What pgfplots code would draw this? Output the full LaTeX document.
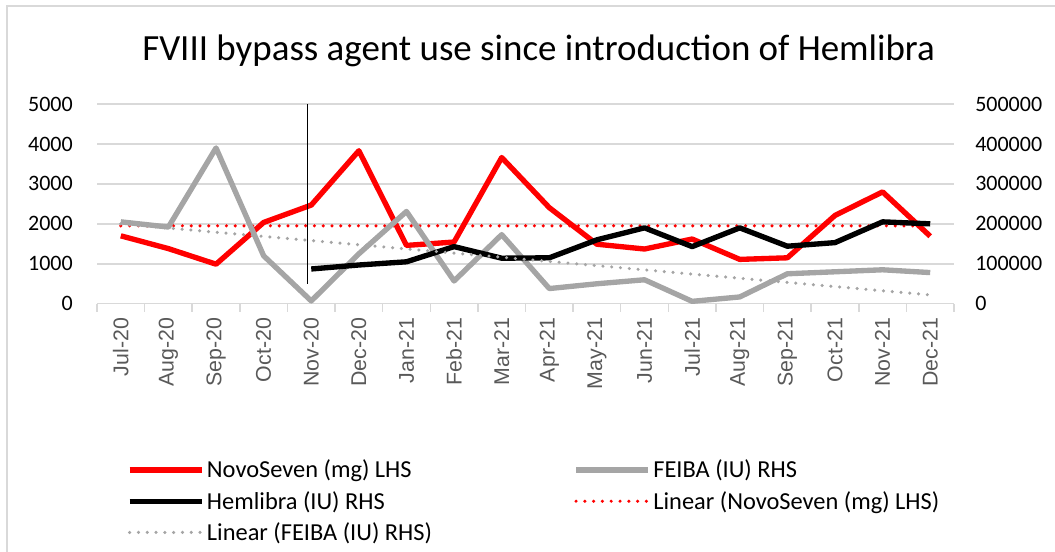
\documentclass[border=0pt]{standalone}
\usepackage{fontspec}
\setmainfont{Carlito}
\newfontfamily\arialf{Liberation Sans}
\usepackage{pgfplots}
\usepackage{pgfplotstable}
\pgfplotsset{compat=1.18}
\definecolor{novo}{HTML}{FF0000}
\definecolor{feiba}{HTML}{A5A5A5}
\definecolor{gridc}{HTML}{D9D9D9}
\definecolor{labc}{HTML}{595959}

% NovoSeven (mg), left axis
\pgfplotstableread{
idx novo
0  1700
1  1380
2  990
3  2035
4  2470
5  3830
6  1460
7  1545
8  3660
9  2405
10 1490
11 1370
12 1620
13 1110
14 1150
15 2210
16 2800
17 1690
}\novotab

% FEIBA (IU), right axis
\pgfplotstableread{
idx feiba
0  205000
1  192000
2  390000
3  120000
4  7000
5  125000
6  231000
7  57000
8  173000
9  38000
10 50000
11 60000
12 6000
13 17000
14 75000
15 80000
16 85000
17 78000
}\feibatab

% Hemlibra (IU), right axis, from Nov-20
\pgfplotstableread{
idx hem
4  87000
5  97000
6  105000
7  143000
8  114000
9  115000
10 160000
11 190000
12 143000
13 190000
14 144000
15 153000
16 205000
17 200000
}\hemtab

\pgfplotsset{
  base/.style={
    scale only axis, width=642.75pt, height=149.8pt,
    at={(72.75pt,-227.8pt)}, anchor=south west,
    xmin=-0.5, xmax=17.5, ymin=0,
    /pgf/number format/assume math mode=true,
    legend image code/.code={\draw[##1] (0pt,0pt) -- (54pt,0pt);},
  },
  novoline/.style={novo, line width=4pt, line join=round},
  feibaline/.style={feiba, line width=4pt, line join=round},
  hemline/.style={black, line width=4pt, line join=round},
  novotrend/.style={novo, line width=2.6pt, line cap=round, dash pattern=on 0pt off 6.6pt},
  feibatrend/.style={feiba, line width=2.6pt, line cap=round, dash pattern=on 0pt off 6.6pt},
}

\begin{document}
\begin{tikzpicture}
\useasboundingbox (0,0) rectangle (791.25pt,-414pt);
\draw[gridc, line width=1.1pt] (5.25pt,-600pt) -- (5.25pt,-4.5pt) -- (900pt,-4.5pt);
\node at (404pt,-38.5pt) {\fontsize{27.7}{32}\selectfont FVIII bypass agent use since introduction of Hemlibra};

\begin{axis}[base,
  ymax=5000, ytick={0,1000,...,5000},
  axis x line*=bottom, axis y line*=left,
  x axis line style={-, draw=gridc, line width=1.1pt},
  y axis line style={draw=none},
  ymajorgrids, grid style={gridc, line width=1.1pt},
  xtick={0,...,17},
  xticklabels={Jul-20,Aug-20,Sep-20,Oct-20,Nov-20,Dec-20,Jan-21,Feb-21,Mar-21,Apr-21,May-21,Jun-21,Jul-21,Aug-21,Sep-21,Oct-21,Nov-21,Dec-21},
  xticklabel shift=10.5pt,
  x tick label style={rotate=90, anchor=east, inner sep=0pt,
    font=\arialf\fontsize{16}{19}\selectfont, text=labc},
  y tick label style={anchor=east, inner sep=0pt, xshift=-18pt,
    font=\fontsize{16.5}{20}\selectfont},
  yticklabel style={/pgf/number format/fixed, /pgf/number format/1000 sep={}},
  major tick length=0pt,
  minor xtick={-0.5,0.5,...,17.5},
  minor tick length=6pt, tick align=outside,
  minor tick style={gridc, line width=1.1pt},
]
\addplot[novoline] table[x=idx, y=novo] {\novotab};
\addplot[novotrend] coordinates {(0,1950) (17,1950)};
\draw[black, line width=0.8pt] (axis cs:3.92,500) -- (axis cs:3.92,5000);
\end{axis}

\begin{axis}[base,
  ymax=500000, ytick={0,100000,...,500000},
  scaled y ticks=false,
  yticklabel style={/pgf/number format/fixed, /pgf/number format/1000 sep={}},
  axis x line=none, axis y line*=right,
  y axis line style={draw=none},
  major tick length=0pt,
  y tick label style={anchor=west, inner sep=0pt, xshift=15.75pt,
    font=\fontsize{16.5}{20}\selectfont},
  legend columns=2,
  legend cell align=left,
  legend style={at={(0.03,-0.755)}, anchor=north west, draw=none, fill=none,
    font=\fontsize{18.3}{22}\selectfont, row sep=4.5pt,
    /tikz/every even column/.append style={column sep=104pt}},
]
\addlegendimage{novoline}
\addlegendentry{NovoSeven (mg) LHS}
\addplot[feibaline] table[x=idx, y=feiba] {\feibatab};
\addlegendentry{FEIBA (IU) RHS}
\addplot[hemline] table[x=idx, y=hem] {\hemtab};
\addlegendentry{Hemlibra (IU) RHS}
\addlegendimage{novotrend}
\addlegendentry{Linear (NovoSeven (mg) LHS)}
\addplot[feibatrend] coordinates {(0,200000) (17,22000)};
\addlegendentry{Linear (FEIBA (IU) RHS)}
\end{axis}
\end{tikzpicture}
\end{document}
